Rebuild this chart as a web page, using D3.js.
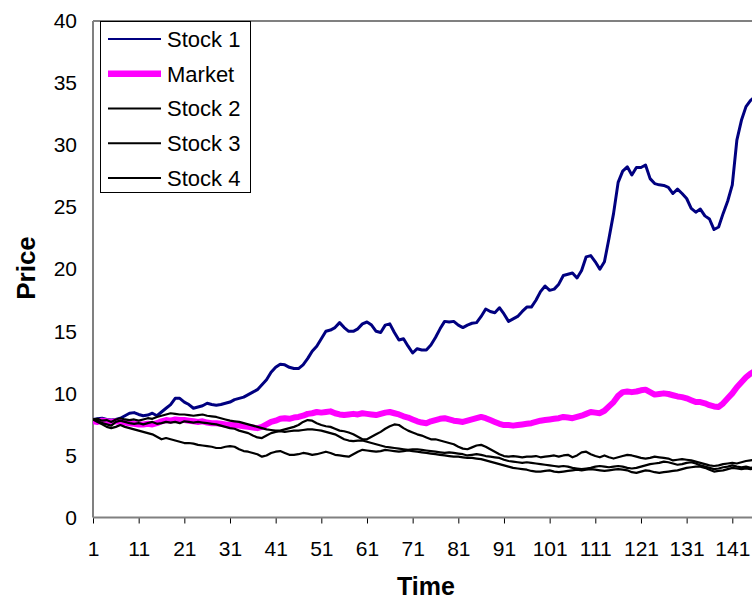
<!DOCTYPE html>
<html>
<head>
<meta charset="utf-8">
<script src="https://cdn.jsdelivr.net/npm/d3@7"></script>
<style>
  body { margin: 0; background: #fff; }
  text { font-family: "Liberation Sans", Arial, sans-serif; }
</style>
</head>
<body>
<script>
// series names for the legend
var seriesNames = ['Stock 1', 'Market', 'Stock 2', 'Stock 3', 'Stock 4'];

// x tick labels (every 10th period)
var xTicks = [1, 11, 21, 31, 41, 51, 61, 71, 81, 91, 101, 111, 121, 131, 141];
var yTicks = [0, 5, 10, 15, 20, 25, 30, 35, 40];

// values, periods 1..146
var stock1 = [7.9, 7.95, 8.0, 7.9, 7.85, 7.9, 8.0, 8.2, 8.4, 8.45,
  8.3, 8.2, 8.25, 8.4, 8.2, 8.5, 8.8, 9.1, 9.6, 9.6,
  9.3, 9.1, 8.8, 8.9, 9.0, 9.2, 9.1, 9.05, 9.1, 9.2,
  9.3, 9.5, 9.6, 9.7, 9.9, 10.1, 10.3, 10.7, 11.1, 11.7,
  12.1, 12.35, 12.3, 12.1, 12.0, 12.0, 12.3, 12.8, 13.4, 13.8,
  14.4, 15.0, 15.1, 15.3, 15.7, 15.3, 15.0, 15.0, 15.2, 15.6,
  15.75, 15.5, 15.0, 14.9, 15.5, 15.6, 14.9, 14.3, 14.4, 13.8,
  13.25, 13.6, 13.5, 13.5, 13.9, 14.5, 15.2, 15.8, 15.75, 15.8,
  15.5, 15.3, 15.5, 15.65, 15.7, 16.2, 16.8, 16.6, 16.5, 16.9,
  16.4, 15.8, 16.0, 16.2, 16.6, 16.95, 16.95, 17.5, 18.2, 18.65,
  18.3, 18.4, 18.8, 19.5, 19.6, 19.7, 19.3, 19.9, 21.0, 21.1,
  20.6, 20.0, 20.6, 22.5, 24.5, 27.0, 27.9, 28.25, 27.6, 28.2,
  28.2, 28.4, 27.3, 26.9, 26.8, 26.75, 26.6, 26.1, 26.45, 26.1,
  25.7, 24.9, 24.6, 24.85, 24.3, 24.05, 23.2, 23.4, 24.5, 25.5,
  26.8, 30.4, 32.0, 33.1, 33.6, 33.9];

var market = [7.75, 7.7, 7.8, 7.75, 7.7, 7.75, 7.7, 7.65, 7.6, 7.55,
  7.5, 7.5, 7.55, 7.5, 7.6, 7.75, 7.85, 7.8, 7.9, 7.85,
  7.85, 7.8, 7.75, 7.7, 7.75, 7.65, 7.6, 7.6, 7.55, 7.5,
  7.45, 7.45, 7.4, 7.35, 7.3, 7.25, 7.2, 7.3, 7.5, 7.7,
  7.8, 7.95, 8.0, 7.95, 8.05, 8.1, 8.2, 8.35, 8.4, 8.5,
  8.45, 8.5, 8.55, 8.4, 8.3, 8.25, 8.3, 8.35, 8.3, 8.4,
  8.35, 8.3, 8.25, 8.35, 8.45, 8.5, 8.4, 8.3, 8.15, 8.05,
  7.9, 7.75, 7.65, 7.6, 7.75, 7.85, 7.95, 8.0, 7.9, 7.8,
  7.75, 7.7, 7.8, 7.9, 8.0, 8.1, 8.0, 7.85, 7.7, 7.55,
  7.45, 7.45, 7.4, 7.45, 7.5, 7.55, 7.6, 7.7, 7.8, 7.85,
  7.9, 7.95, 8.0, 8.1, 8.05, 8.0, 8.1, 8.2, 8.35, 8.5,
  8.45, 8.4, 8.6, 8.95, 9.3, 9.8, 10.1, 10.15, 10.1, 10.15,
  10.25, 10.3, 10.1, 9.9, 9.95, 10.0, 9.95, 9.85, 9.75, 9.7,
  9.6, 9.45, 9.3, 9.3, 9.2, 9.05, 8.95, 8.9, 9.2, 9.6,
  10.0, 10.5, 10.9, 11.3, 11.6, 11.8];

var stock2 = [7.9, 7.95, 7.8, 7.85, 7.7, 7.9, 8.0, 7.9, 7.85, 7.9,
  7.8, 7.9, 8.0, 7.95, 8.1, 8.2, 8.3, 8.4, 8.35, 8.3,
  8.3, 8.25, 8.2, 8.25, 8.3, 8.2, 8.15, 8.1, 8.0, 7.9,
  7.8, 7.75, 7.7, 7.6, 7.5, 7.4, 7.3, 7.2, 7.1, 7.05,
  7.0, 7.0, 7.1, 7.2, 7.3, 7.45, 7.7, 7.85, 7.8, 7.6,
  7.45, 7.35, 7.3, 7.15, 7.0, 6.95, 6.85, 6.7, 6.5, 6.3,
  6.3, 6.5, 6.7, 6.9, 7.15, 7.35, 7.5, 7.45, 7.2, 7.0,
  6.85, 6.7, 6.6, 6.45, 6.3, 6.3, 6.2, 6.1, 6.0, 5.9,
  5.7, 5.55, 5.5, 5.65, 5.8, 5.85, 5.7, 5.5, 5.3, 5.1,
  4.95, 4.9, 4.95, 4.9, 4.85, 4.9, 4.9, 4.95, 4.85, 4.9,
  4.95, 5.0, 4.9, 5.0, 5.05, 4.85, 5.0, 5.25, 5.3, 5.1,
  4.95, 4.85, 5.0, 4.85, 4.75, 4.85, 4.95, 5.05, 5.0, 4.9,
  4.8, 4.75, 4.8, 4.9, 4.85, 4.8, 4.75, 4.6, 4.65, 4.7,
  4.65, 4.6, 4.5, 4.4, 4.3, 4.2, 4.15, 4.2, 4.3, 4.35,
  4.4, 4.35, 4.45, 4.55, 4.6, 4.65];

var stock3 = [7.9, 7.8, 7.6, 7.5, 7.4, 7.7, 7.8, 7.7, 7.6, 7.55,
  7.6, 7.5, 7.6, 7.7, 7.55, 7.6, 7.7, 7.65, 7.7, 7.6,
  7.75, 7.7, 7.65, 7.7, 7.65, 7.6, 7.55, 7.5, 7.4, 7.3,
  7.2, 7.15, 7.0, 6.9, 6.8, 6.6, 6.45, 6.4, 6.6, 6.8,
  6.9, 6.95, 6.9, 6.95, 7.0, 7.0, 7.05, 7.1, 7.1, 7.05,
  7.0, 6.9, 6.8, 6.7, 6.5, 6.3, 6.2, 6.15, 6.2, 6.2,
  6.1, 6.0, 5.9, 5.8, 5.7, 5.65, 5.6, 5.55, 5.5, 5.45,
  5.5, 5.5, 5.45, 5.4, 5.35, 5.3, 5.25, 5.2, 5.25, 5.2,
  5.15, 5.1, 5.0, 5.05, 5.1, 5.05, 4.95, 4.9, 4.85, 4.8,
  4.65, 4.55, 4.5, 4.45, 4.4, 4.45, 4.4, 4.35, 4.3, 4.25,
  4.2, 4.15, 4.1, 4.15, 4.1, 4.0, 3.95, 3.9, 3.95, 4.0,
  4.1, 4.15, 4.1, 4.05, 4.1, 4.15, 4.1, 4.0, 3.95, 4.0,
  4.1, 4.2, 4.3, 4.35, 4.4, 4.5, 4.45, 4.35, 4.25, 4.3,
  4.4, 4.45, 4.35, 4.2, 4.1, 4.0, 3.9, 3.95, 4.05, 4.1,
  4.2, 4.1, 4.05, 4.1, 4.0, 4.05];

var stock4 = [7.9, 7.7, 7.5, 7.3, 7.2, 7.3, 7.45, 7.3, 7.2, 7.1,
  7.0, 6.9, 6.8, 6.7, 6.5, 6.3, 6.4, 6.3, 6.2, 6.1,
  6.0, 6.0, 5.95, 5.85, 5.8, 5.75, 5.7, 5.6, 5.6, 5.7,
  5.75, 5.7, 5.5, 5.35, 5.3, 5.2, 5.1, 4.9, 5.0, 5.2,
  5.3, 5.35, 5.2, 5.05, 5.05, 5.1, 5.2, 5.15, 5.05, 5.1,
  5.2, 5.3, 5.2, 5.05, 5.0, 4.95, 4.9, 5.1, 5.3, 5.45,
  5.4, 5.35, 5.3, 5.35, 5.45, 5.4, 5.35, 5.3, 5.35, 5.4,
  5.35, 5.3, 5.25, 5.2, 5.15, 5.1, 5.05, 5.0, 4.95, 4.9,
  4.9, 4.85, 4.8, 4.8, 4.75, 4.7, 4.6, 4.5, 4.4, 4.3,
  4.2, 4.1, 4.0, 3.95, 3.9, 3.85, 3.75, 3.7, 3.7, 3.75,
  3.8, 3.7, 3.65, 3.7, 3.75, 3.8, 3.85, 3.8, 3.85, 3.9,
  3.85, 3.8, 3.75, 3.8, 3.85, 3.9, 3.85, 3.8, 3.65, 3.6,
  3.7, 3.8, 3.75, 3.65, 3.6, 3.65, 3.7, 3.75, 3.8, 3.9,
  4.0, 4.05, 4.1, 4.1, 4.0, 3.85, 3.7, 3.75, 3.8, 3.9,
  4.0, 3.95, 3.9, 3.95, 3.9, 3.95];

var allSeries = [stock1, market, stock2, stock3, stock4];
var colors = ['#000080', '#ff00ff', '#000000', '#000000', '#000000'];
var widths = [3, 6, 2.2, 2.2, 2.2];

var width = 752, height = 600;
var plotLeft = 93, plotTop = 21, plotRight = 752, plotBottom = 517.5;

var svg = d3.select('body').append('svg')
  .attr('width', width)
  .attr('height', height);

// category scale: point 1 at the axis, 141 near the right edge
var x = d3.scaleLinear().domain([1, 141]).range([plotLeft, 732.3]);
var y = d3.scaleLinear().domain([0, 40]).range([plotBottom, plotTop]);

svg.append('clipPath').attr('id', 'plot')
  .append('rect')
  .attr('x', plotLeft).attr('y', plotTop - 5)
  .attr('width', plotRight - plotLeft).attr('height', plotBottom - plotTop + 10);

// plot area border (top line) and axis lines
svg.append('line')
  .attr('x1', plotLeft).attr('x2', plotRight)
  .attr('y1', plotTop).attr('y2', plotTop)
  .attr('stroke', '#808080').attr('stroke-width', 2);
svg.append('line')
  .attr('x1', plotLeft).attr('x2', plotLeft)
  .attr('y1', plotTop).attr('y2', plotBottom)
  .attr('stroke', '#808080').attr('stroke-width', 2);

// x axis
var xAxis = d3.axisBottom(x)
  .tickValues(xTicks)
  .tickSize(6)
  .tickSizeOuter(0)
  .tickFormat(d3.format('d'));
var gx = svg.append('g')
  .attr('transform', 'translate(0,' + plotBottom + ')')
  .call(xAxis);
gx.select('.domain').remove();
gx.append('line')
  .attr('x1', plotLeft).attr('x2', plotRight)
  .attr('stroke', '#808080').attr('stroke-width', 2);
gx.selectAll('.tick line').attr('stroke', '#000').attr('stroke-width', 1);
gx.selectAll('.tick text')
  .attr('y', 24)
  .attr('dy', '0.71em')
  .style('font-size', '21px')
  .attr('fill', '#000');

// y axis labels only
var yAxis = d3.axisLeft(y)
  .tickValues(yTicks)
  .tickSize(0)
  .tickPadding(16);
var gy = svg.append('g')
  .attr('transform', 'translate(' + plotLeft + ',0)')
  .call(yAxis);
gy.select('.domain').remove();
gy.selectAll('.tick text')
  .style('font-size', '21px')
  .attr('fill', '#000');

// lines
var line = d3.line()
  .x(function(d, i) { return x(i + 1); })
  .y(function(d) { return y(d); });

svg.append('g')
  .attr('clip-path', 'url(#plot)')
  .selectAll('path')
  .data(allSeries)
  .enter().append('path')
  .attr('d', line)
  .attr('fill', 'none')
  .attr('stroke', function(d, i) { return colors[i]; })
  .attr('stroke-width', function(d, i) { return widths[i]; })
  .attr('stroke-linejoin', 'round');

// legend
var legend = svg.append('g');
legend.append('rect')
  .attr('x', 100.5).attr('y', 21.5)
  .attr('width', 150).attr('height', 171)
  .attr('fill', '#fff')
  .attr('stroke', '#000').attr('stroke-width', 1);

var rowY = d3.scaleLinear().domain([0, 4]).range([39, 178]);
var rows = legend.selectAll('g.row')
  .data(seriesNames)
  .enter().append('g')
  .attr('class', 'row')
  .attr('transform', function(d, i) { return 'translate(0,' + rowY(i) + ')'; });
rows.append('line')
  .attr('x1', 108).attr('x2', 161)
  .attr('stroke', function(d, i) { return colors[i]; })
  .attr('stroke-width', function(d, i) { return i === 1 ? 6.5 : 2; });
rows.append('text')
  .attr('x', 167)
  .attr('dy', '0.36em')
  .style('font-size', '22px')
  .text(function(d) { return d; });

// axis titles
svg.append('text')
  .attr('transform', 'translate(35,268) rotate(-90)')
  .attr('text-anchor', 'middle')
  .style('font-size', '26px')
  .style('font-weight', 'bold')
  .text('Price');
svg.append('text')
  .attr('x', 426).attr('y', 595)
  .attr('text-anchor', 'middle')
  .style('font-size', '25px')
  .style('font-weight', 'bold')
  .text('Time');
</script>
</body>
</html>
